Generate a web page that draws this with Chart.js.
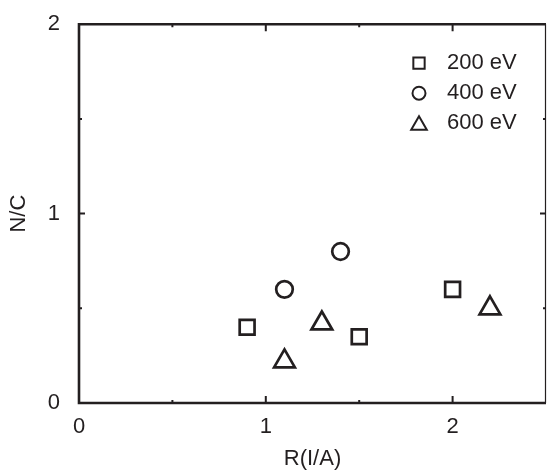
<!DOCTYPE html>
<html>
<head>
<meta charset="utf-8">
<script src="https://cdn.jsdelivr.net/npm/chart.js@4.4.0/dist/chart.umd.min.js"></script>
<style>
  body { margin: 0; background: #fff; }
  #wrap { width: 547px; height: 472px; }
</style>
</head>
<body>
<div id="wrap"><canvas id="c" width="547" height="472"></canvas></div>
<script>
// data
const labels = ['200 eV', '400 eV', '600 eV'];
const x200 = [0.9, 1.5, 2.0];
const y200 = [0.40, 0.35, 0.60];
const x400 = [1.1, 1.4];
const y400 = [0.60, 0.80];
const x600 = [1.1, 1.3, 2.2];
const y600 = [0.22, 0.42, 0.50];
const xTicks = [0, 1, 2];
const yTicks = [0, 1, 2];

const ink = '#231f20';
const font = { family: "'Liberation Sans', Arial, sans-serif", size: 22 };

const pts = (xs, ys) => xs.map((x, i) => ({ x: x, y: ys[i] }));

// frame with inward major/minor ticks on all four sides
const framePlugin = {
  id: 'frame',
  afterDraw(chart) {
    const { ctx, chartArea: a, scales: { x, y } } = chart;
    ctx.save();
    ctx.strokeStyle = ink;
    ctx.lineCap = 'butt';
    // ticks
    ctx.lineWidth = 2;
    for (let v = 0.5; v < 2.5; v += 0.5) {
      const px = x.getPixelForValue(v);
      const len = Number.isInteger(v) ? 7 : 3;
      ctx.beginPath();
      ctx.moveTo(px, a.bottom); ctx.lineTo(px, a.bottom - len);
      ctx.moveTo(px, a.top); ctx.lineTo(px, a.top + len);
      ctx.stroke();
    }
    for (let v = 0.5; v < 2; v += 0.5) {
      const py = y.getPixelForValue(v);
      const len = Number.isInteger(v) ? 6 : 3;
      ctx.beginPath();
      ctx.moveTo(a.left, py); ctx.lineTo(a.left + len, py);
      ctx.moveTo(a.right, py); ctx.lineTo(a.right - len, py);
      ctx.stroke();
    }
    // thin right edge
    ctx.lineWidth = 1.2;
    ctx.beginPath();
    ctx.moveTo(a.right - 0.5, a.top); ctx.lineTo(a.right - 0.5, a.bottom);
    ctx.stroke();
    // heavy left, top, bottom
    ctx.lineWidth = 2.6;
    ctx.beginPath();
    ctx.moveTo(a.right, a.top); ctx.lineTo(a.left, a.top);
    ctx.lineTo(a.left, a.bottom); ctx.lineTo(a.right, a.bottom);
    ctx.stroke();
    ctx.restore();
  }
};

// legend in upper right of the plot
const legendPlugin = {
  id: 'boxLegend',
  afterDraw(chart) {
    const { ctx, chartArea: a } = chart;
    const mx = a.right - 127, tx = a.right - 99;
    const rows = [
      { y: a.top + 39, style: 'rect', r: 8 },
      { y: a.top + 69, style: 'circle', r: 6.5 },
      { y: a.top + 99, style: 'triangle', r: 9 }
    ];
    ctx.save();
    ctx.font = font.size + 'px ' + font.family;
    ctx.textBaseline = 'middle';
    rows.forEach((row, i) => {
      ctx.strokeStyle = ink;
      ctx.fillStyle = 'rgba(0,0,0,0)';
      ctx.lineWidth = 2;
      Chart.helpers.drawPoint(ctx, { pointStyle: row.style, radius: row.r, borderWidth: 2, rotation: 0 }, mx, row.style === 'triangle' ? row.y + 2 : row.y);
      ctx.fillStyle = ink;
      ctx.fillText(labels[i], tx, row.y);
    });
    ctx.restore();
  }
};

new Chart(document.getElementById('c'), {
  type: 'scatter',
  data: {
    datasets: [
      { label: labels[0], data: pts(x200, y200), pointStyle: 'rect', pointRadius: 10.5, borderWidth: 2.7, borderColor: ink, backgroundColor: 'rgba(0,0,0,0)' },
      { label: labels[1], data: pts(x400, y400), pointStyle: 'circle', pointRadius: 8.3, borderWidth: 2.7, borderColor: ink, backgroundColor: 'rgba(0,0,0,0)' },
      { label: labels[2], data: pts(x600, y600), pointStyle: 'triangle', pointRadius: 12, borderWidth: 2.7, borderColor: ink, backgroundColor: 'rgba(0,0,0,0)' }
    ]
  },
  options: {
    responsive: false,
    animation: false,
    clip: false,
    layout: { autoPadding: false, padding: { top: 21, right: 1, left: 0, bottom: 0 } },
    plugins: { legend: { display: false }, tooltip: { enabled: false } },
    scales: {
      x: {
        type: 'linear', min: 0, max: 2.5,
        afterBuildTicks: (s) => { s.ticks = xTicks.map(v => ({ value: v })); },
        afterFit: (s) => { s.height = 69; },
        ticks: { color: ink, font: font, padding: 3, maxRotation: 0 },
        grid: { display: false },
        border: { display: false },
        title: { display: true, text: 'R(I/A)', color: ink, font: font, padding: { top: 0, bottom: 0 } }
      },
      y: {
        type: 'linear', min: 0, max: 2,
        afterBuildTicks: (s) => { s.ticks = yTicks.map(v => ({ value: v })); },
        afterFit: (s) => { s.width = 79; },
        ticks: { color: ink, font: font, padding: 11 },
        grid: { display: false },
        border: { display: false },
        title: { display: true, text: 'N/C', color: ink, font: font, padding: { top: 6, bottom: 0 } }
      }
    }
  },
  plugins: [framePlugin, legendPlugin]
});
</script>
</body>
</html>
